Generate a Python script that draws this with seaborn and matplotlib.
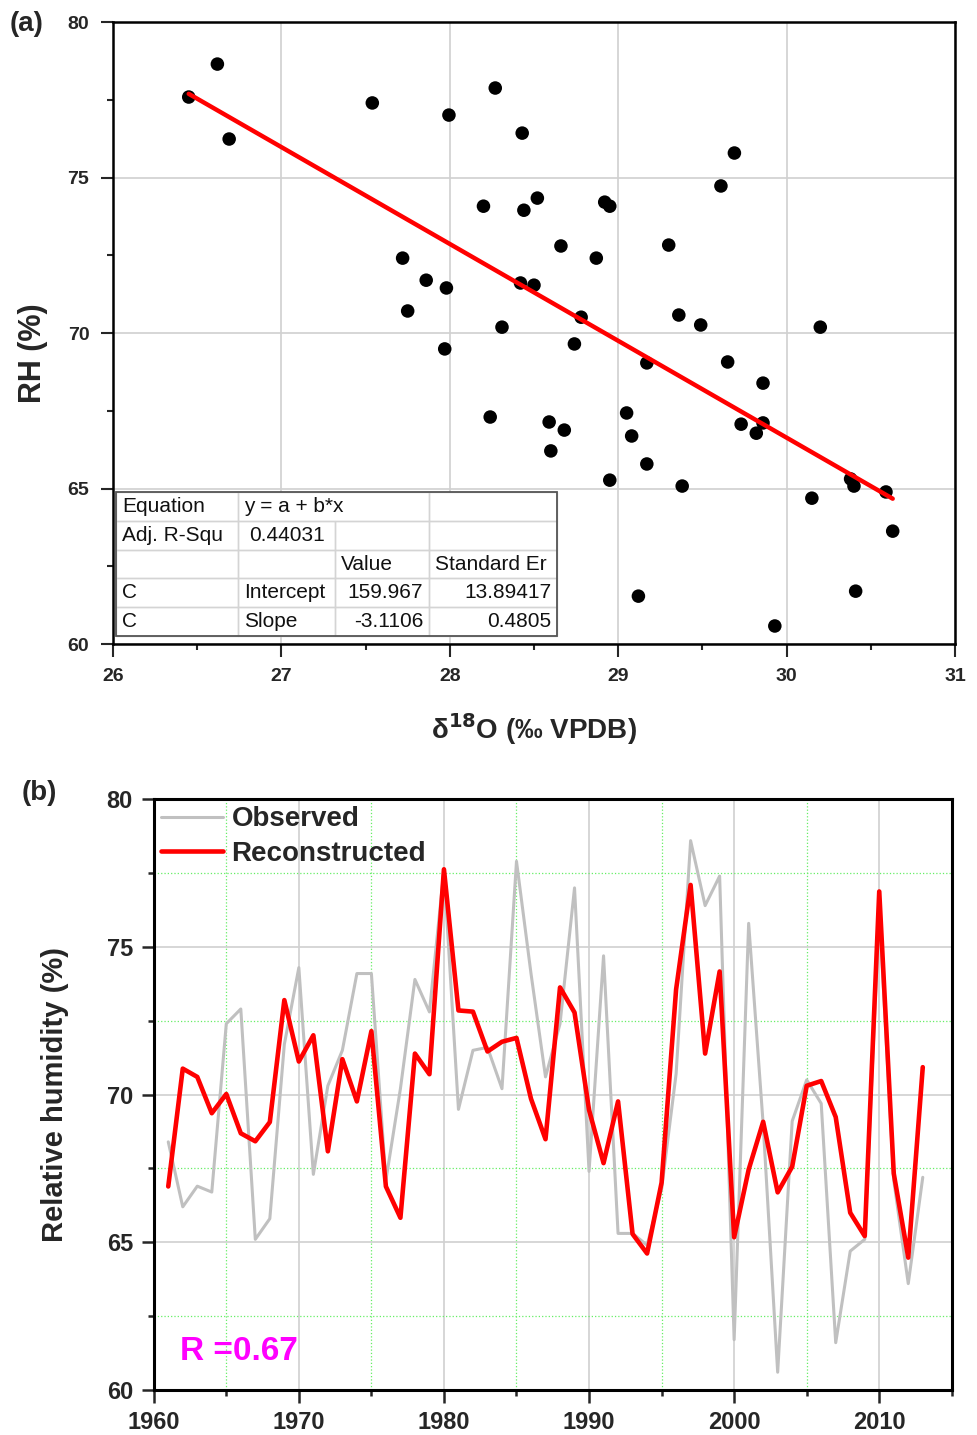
import numpy as np
import pandas as pd
import matplotlib
matplotlib.use("Agg")
import matplotlib.pyplot as plt
import seaborn as sns
from matplotlib.table import Table
from matplotlib.patches import Rectangle
from matplotlib.ticker import MultipleLocator

# (a) scatter: d18O vs RH
d18o = [26.45, 26.62, 26.69, 27.54, 27.995, 28.27, 28.43, 28.20, 28.44, 28.52,
        28.92, 28.95, 29.61, 29.69, 27.72, 27.86, 27.75, 27.98, 27.97, 28.31,
        28.42, 28.50, 28.66, 28.87, 29.30, 28.78, 28.74, 29.36, 29.49, 29.17,
        29.65, 30.20, 28.24, 28.59, 28.68, 28.60, 29.05, 29.08, 29.17, 29.73,
        29.82, 29.86, 29.86, 28.95, 29.38, 30.15, 30.38, 30.40, 30.59, 30.63,
        29.12, 30.41, 29.93]
rh = [77.59, 78.65, 76.24, 77.40, 77.01, 77.88, 76.43, 74.08, 73.95, 74.34,
      74.21, 74.08, 74.73, 75.79, 72.41, 71.70, 70.71, 71.45, 69.49, 70.19,
      71.61, 71.54, 72.80, 72.41, 72.83, 70.51, 69.65, 70.58, 70.26, 69.04,
      69.07, 70.19, 67.30, 67.14, 66.88, 66.21, 67.43, 66.69, 65.79, 67.07,
      66.78, 67.11, 68.39, 65.27, 65.08, 64.69, 65.31, 65.08, 64.89, 63.63,
      61.54, 61.70, 60.58]

# (b) time series
years = list(range(1961, 2014))
observed = [68.4, 66.2, 66.9, 66.7, 72.4, 72.9, 65.1, 65.8, 71.7, 74.3,
            67.3, 70.3, 71.5, 74.1, 74.1, 67.1, 70.2, 73.9, 72.8, 77.6,
            69.5, 71.5, 71.6, 70.2, 77.9, 74.1, 70.6, 72.4, 77.0, 67.4,
            74.7, 65.3, 65.3, 64.9, 66.8, 70.7, 78.6, 76.4, 77.4, 61.7,
            75.8, 69.0, 60.6, 69.1, 70.5, 69.7, 61.6, 64.7, 65.1, 76.2,
            67.1, 63.6, 67.2]
reconstructed = [66.89, 70.88, 70.60, 69.37, 70.02, 68.69, 68.42, 69.07, 73.20, 71.12,
                 72.01, 68.08, 71.20, 69.77, 72.15, 66.89, 65.83, 71.39, 70.69, 77.63,
                 72.85, 72.81, 71.46, 71.79, 71.92, 69.86, 68.49, 73.63, 72.78, 69.48,
                 67.68, 69.77, 65.28, 64.62, 67.02, 73.56, 77.10, 71.39, 74.17, 65.17,
                 67.46, 69.08, 66.69, 67.56, 70.30, 70.46, 69.24, 66.00, 65.21, 76.88,
                 67.33, 64.48, 70.93]

table_rows = [
    ["Equation", "y = a + b*x", "", ""],
    ["Adj. R-Squ", "0.44031", "", ""],
    ["", "", "Value", "Standard Er"],
    ["C", "Intercept", "159.967", "13.89417"],
    ["C", "Slope", "-3.1106", "0.4805"],
]
r_text = "R =0.67"

sns.set_theme(style="ticks")
plt.rcParams["font.family"] = ["Liberation Sans", "DejaVu Sans"]

fig = plt.figure(figsize=(9.78, 14.35), dpi=100)
ax1 = fig.add_axes([0.1155, 0.5512, 0.861, 0.4334])
ax2 = fig.add_axes([0.1572, 0.0314, 0.816, 0.4116])

# ---- panel (a)
sns.regplot(x=d18o, y=rh, ax=ax1, ci=None, color="black",
            scatter_kws=dict(s=95, color="black", edgecolor="none", alpha=1, zorder=3),
            line_kws=dict(color="red", lw=3.2, zorder=4))
ax1.set_xlim(26, 31)
ax1.set_ylim(60, 80)
ax1.xaxis.set_major_locator(MultipleLocator(1))
ax1.xaxis.set_minor_locator(MultipleLocator(0.5))
ax1.yaxis.set_major_locator(MultipleLocator(5))
ax1.yaxis.set_minor_locator(MultipleLocator(2.5))
ax1.grid(True, which="major", color="#d0d0d0", lw=1.2)
ax1.set_axisbelow(True)
ax1.tick_params(which="major", direction="out", length=9, width=1.5, labelsize=14, pad=8)
ax1.tick_params(which="minor", direction="out", length=4.5, width=1.5)
for lab in ax1.get_xticklabels() + ax1.get_yticklabels():
    lab.set_fontweight("bold")
for s in ax1.spines.values():
    s.set_linewidth(1.8)
    s.set_color("black")
ax1.set_xlabel(r"δ$^{\mathbf{18}}$O (‰ VPDB)", fontsize=20, fontweight="bold", labelpad=19)
ax1.set_ylabel("RH (%)", fontsize=22, fontweight="bold")
ax1.yaxis.set_label_coords(-0.077, 0.468)

# fit table
tb = [0.0036, 0.0129, 0.5238, 0.2315]
col_px = [122, 97, 94, 128]
col_w = [w / sum(col_px) for w in col_px]
aligns = [["left", "left", "left", "left"],
          ["left", "center", "left", "left"],
          ["left", "left", "left", "left"],
          ["left", "left", "right", "right"],
          ["left", "left", "right", "right"]]
tab = Table(ax1, bbox=tb)
for r, row in enumerate(table_rows):
    for c, txt in enumerate(row):
        cell = tab.add_cell(r, c, col_w[c], 1 / len(table_rows), text=txt,
                            loc=aligns[r][c], facecolor="none", edgecolor="#d4d4d4")
        cell.PAD = 6 / col_px[c]
        cell.set_linewidth(1.0)
        cell.get_text().set_color("#111111")
tab[0, 1].visible_edges = "BTL"
tab[0, 2].visible_edges = "BTR"
tab.auto_set_font_size(False)
tab.set_fontsize(15)
tab.set_zorder(5)
ax1.add_table(tab)
ax1.add_patch(Rectangle((tb[0], tb[1]), tb[2], tb[3], transform=ax1.transAxes,
                        facecolor="white", edgecolor="none", zorder=4.5))
ax1.add_patch(Rectangle((tb[0], tb[1]), tb[2], tb[3], transform=ax1.transAxes,
                        facecolor="none", edgecolor="#555555", lw=1.3, zorder=6))

# ---- panel (b)
sns.lineplot(x=years, y=observed, ax=ax2, color="#c0c0c0", lw=2.2, label="Observed")
sns.lineplot(x=years, y=reconstructed, ax=ax2, color="#ff0000", lw=3.3, label="Reconstructed")
ax2.set_xlim(1960, 2015)
ax2.set_ylim(60, 80)
ax2.xaxis.set_major_locator(MultipleLocator(10))
ax2.xaxis.set_minor_locator(MultipleLocator(5))
ax2.yaxis.set_major_locator(MultipleLocator(5))
ax2.yaxis.set_minor_locator(MultipleLocator(2.5))
ax2.grid(True, which="major", color="#d0d0d0", lw=1.2, ls="-")
ax2.grid(True, which="minor", color="#66ee66", lw=0.9, ls=":")
ax2.set_axisbelow(True)
ax2.tick_params(which="major", direction="out", length=9, width=1.8, labelsize=17, pad=6)
ax2.tick_params(which="minor", direction="out", length=4.5, width=1.8)
for lab in ax2.get_xticklabels() + ax2.get_yticklabels():
    lab.set_fontweight("bold")
for s in ax2.spines.values():
    s.set_linewidth(2.2)
    s.set_color("black")
ax2.set_xlabel("")
ax2.set_ylabel("Relative humidity (%)", fontsize=21, fontweight="bold", labelpad=27)
ax2.legend(loc="upper left", bbox_to_anchor=(0, 1), frameon=False,
           prop=dict(weight="bold", size=20), handlelength=2.25, handletextpad=0.3,
           labelspacing=0.32, borderaxespad=0, borderpad=0.25)
ax2.text(1961.8, 61.3, r_text, color="#ff00ff", fontsize=24, fontweight="bold", va="center")

fig.text(0.01, 0.983, "(a)", fontsize=20, fontweight="bold", va="center")
fig.text(0.0225, 0.4474, "(b)", fontsize=20, fontweight="bold", va="center")

fig.savefig("out.png", dpi=100)
